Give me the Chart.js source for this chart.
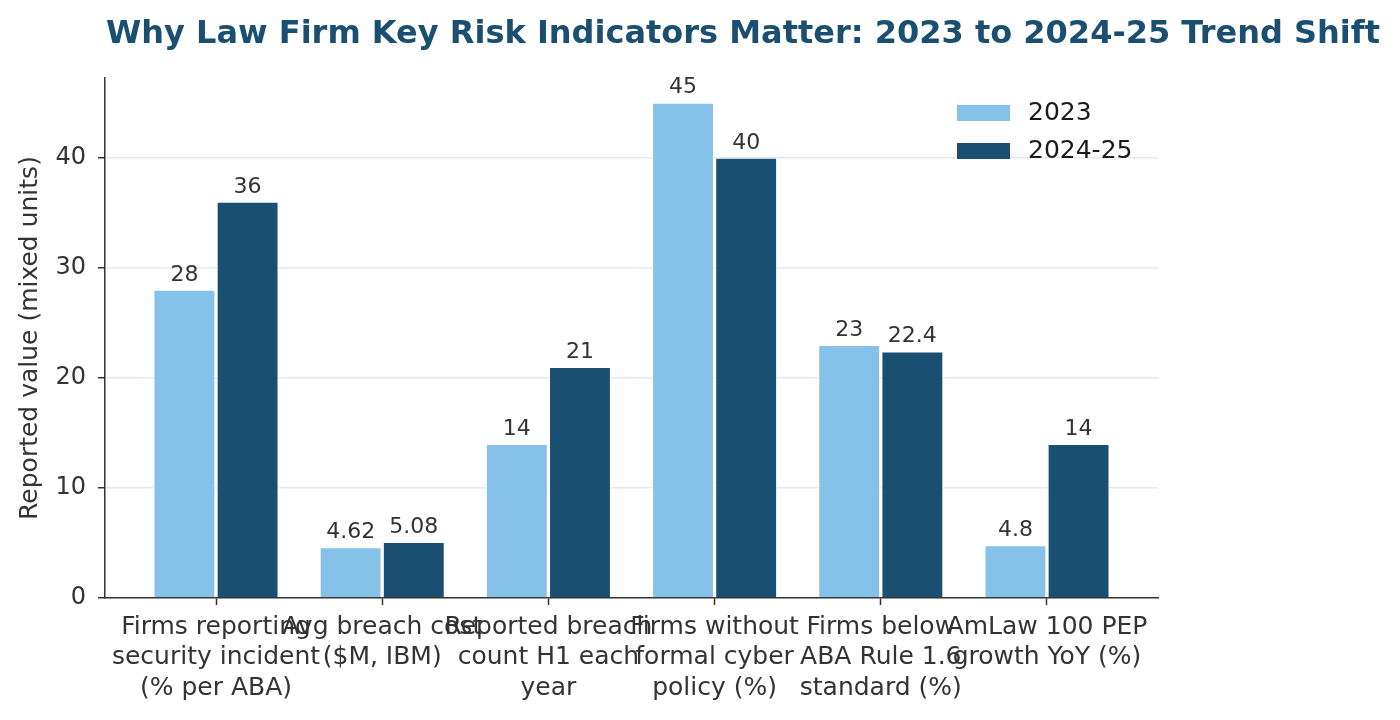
<!DOCTYPE html>
<html>
<head>
<meta charset="utf-8">
<script src="https://cdn.jsdelivr.net/npm/chart.js@4.4.1/dist/chart.umd.min.js"></script>
<style>
  html, body { margin: 0; padding: 0; background: #fff; }
  #wrap { width: 1400px; height: 720px; }
</style>
</head>
<body>
<div id="wrap"><canvas id="chart" width="1400" height="720"></canvas></div>
<script>
const categories = [
    ['Firms reporting', 'security incident', '(% per ABA)'],
    ['Avg breach cost', '($M, IBM)'],
    ['Reported breach', 'count H1 each', 'year'],
    ['Firms without', 'formal cyber', 'policy (%)'],
    ['Firms below', 'ABA Rule 1.6', 'standard (%)'],
    ['AmLaw 100 PEP', 'growth YoY (%)']
];
const values2023 = [28, 4.62, 14, 45, 23, 4.8];
const values2024 = [36, 5.08, 21, 40, 22.4, 14];
const seriesNames = ['2023', '2024-25'];
const yTicks = [0, 10, 20, 30, 40];

const FONT = "'DejaVu Sans', 'Liberation Sans', sans-serif";
const TEXT = '#333333';
const LIGHT = '#85c1e9';
const DARK = '#1b4f72';

const titlePlugin = {
    id: 'figTitle',
    afterDraw(chart) {
        const ctx = chart.ctx;
        ctx.save();
        ctx.font = 'bold 32px ' + FONT;
        ctx.fillStyle = DARK;
        ctx.textAlign = 'center';
        ctx.textBaseline = 'middle';
        ctx.fillText('Why Law Firm Key Risk Indicators Matter: 2023 to 2024-25 Trend Shift', 743, 35);
        ctx.restore();
    }
};

const valueLabels = {
    id: 'valueLabels',
    afterDatasetsDraw(chart) {
        const ctx = chart.ctx;
        ctx.save();
        ctx.font = '22px ' + FONT;
        ctx.fillStyle = TEXT;
        ctx.textAlign = 'center';
        ctx.textBaseline = 'bottom';
        chart.data.datasets.forEach((ds, di) => {
            chart.getDatasetMeta(di).data.forEach((bar, i) => {
                ctx.fillText(String(ds.data[i].y), bar.x, bar.y - 4);
            });
        });
        ctx.restore();
    }
};

const boxLegend = {
    id: 'boxLegend',
    afterDraw(chart) {
        const ctx = chart.ctx;
        const area = chart.chartArea;
        ctx.save();
        ctx.font = '25px ' + FONT;
        ctx.textBaseline = 'middle';
        chart.data.datasets.forEach((ds, i) => {
            const y = area.top + 35 + i * 38;
            const x = area.right - 201;
            ctx.fillStyle = ds.backgroundColor;
            ctx.fillRect(x, y - 8, 53, 16);
            ctx.fillStyle = '#1a1a1a';
            ctx.textAlign = 'left';
            ctx.fillText(ds.label, x + 71, y);
        });
        ctx.restore();
    }
};

function toPoints(arr) {
    return arr.map((v, i) => ({ x: i, y: v }));
}

new Chart(document.getElementById('chart'), {
    type: 'bar',
    data: {
        datasets: [
            {
                label: seriesNames[0],
                data: toPoints(values2023),
                backgroundColor: LIGHT,
                borderColor: '#ffffff',
                borderWidth: 1
            },
            {
                label: seriesNames[1],
                data: toPoints(values2024),
                backgroundColor: DARK,
                borderColor: '#ffffff',
                borderWidth: 1
            }
        ]
    },
    options: {
        responsive: false,
        animation: false,
        categoryPercentage: 0.76,
        barPercentage: 0.98,
        layout: { padding: { top: 78, right: 242, left: 0, bottom: 0 } },
        plugins: {
            legend: { display: false },
            tooltip: { enabled: false },
            title: { display: false }
        },
        scales: {
            x: {
                type: 'linear',
                offset: false,
                min: -0.668,
                max: 5.668,
                afterBuildTicks(scale) {
                    scale.ticks = categories.map((_, i) => ({ value: i }));
                },
                afterFit(scale) { scale.height = 122; },
                ticks: {
                    autoSkip: false,
                    maxRotation: 0,
                    minRotation: 0,
                    padding: 7,
                    color: TEXT,
                    font: { family: FONT, size: 25, lineHeight: 1.22 },
                    callback: (v) => categories[v]
                },
                grid: {
                    offset: false,
                    drawOnChartArea: false,
                    drawTicks: true,
                    tickLength: 7,
                    tickColor: TEXT,
                    tickWidth: 1.5
                },
                border: { display: true, color: TEXT, width: 1.5 }
            },
            y: {
                min: 0,
                max: 47.25,
                afterBuildTicks(scale) {
                    scale.ticks = yTicks.map(v => ({ value: v }));
                },
                afterFit(scale) { scale.width = 105; },
                ticks: {
                    padding: 12,
                    color: TEXT,
                    font: { family: FONT, size: 24 }
                },
                title: {
                    display: true,
                    text: 'Reported value (mixed units)',
                    color: TEXT,
                    font: { family: FONT, size: 25 },
                    padding: { top: 15, bottom: 0 }
                },
                grid: {
                    color: ctx => (ctx.tick && ctx.tick.value === 0) ? 'rgba(0,0,0,0)' : '#e1e9f5',
                    lineWidth: 1.5,
                    drawTicks: true,
                    tickLength: 7,
                    tickColor: TEXT,
                    tickWidth: 1.5
                },
                border: { display: true, color: TEXT, width: 1.5 }
            }
        }
    },
    plugins: [titlePlugin, valueLabels, boxLegend]
});
</script>
</body>
</html>
